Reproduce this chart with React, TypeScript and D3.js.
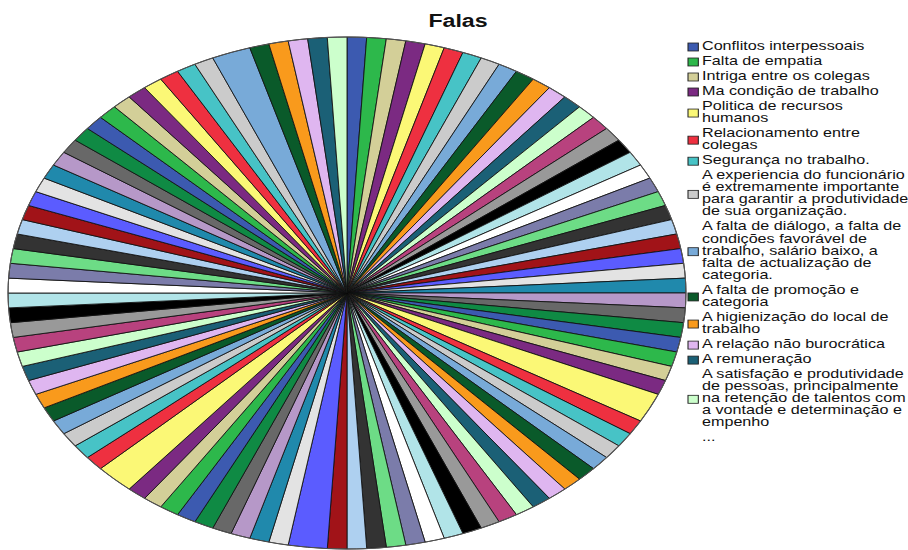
import * as d3 from "d3";

// answers per statement, clockwise from 12 o'clock
const sliceValues = [
  1, 1, 1, 1, 1, 1, 1, 1, 1, 1,
  1, 1, 1, 1, 1, 1, 1, 1, 1, 1,
  1, 1, 1, 1, 1, 1, 1, 1, 1, 1,
  1, 1, 1, 1, 2, 1, 1, 1, 1, 1,
  1, 1, 1, 1, 1, 1, 1, 1, 1, 1,
  1, 1, 1, 1, 2, 1, 1, 1, 1, 1,
  1, 1, 1, 1, 2, 1, 1, 1, 1, 1,
  1, 1, 1, 1, 1, 1, 1, 1, 1, 1,
  1, 1, 1, 1, 1, 1, 1, 1, 1, 1,
  1, 1, 1, 1, 1, 1, 1, 1, 2, 1,
  1, 1, 1, 1,
];

const palette = [
  "#3c5ab0", "#2db84b", "#d3cf98", "#7b2a82", "#fbf876", "#ee3040",
  "#47c3c6", "#cbcbcb", "#78aad8", "#0a5a2a", "#f99a1c", "#dfb6f0",
  "#1b6076", "#ccffcc", "#b8427e", "#999999", "#000000", "#b1e4e8",
  "#ffffff", "#7b7caa", "#6ddc86", "#333333", "#aed0f0", "#a11318",
  "#5b5cff", "#e3e3e3", "#2089ac", "#b698c8", "#686868", "#0f8a44",
];

const legendLabels = [
  ["Conflitos interpessoais"],
  ["Falta de empatia"],
  ["Intriga entre os colegas"],
  ["Ma condição de trabalho"],
  ["Politica de recursos", "humanos"],
  ["Relacionamento entre", "colegas"],
  ["Segurança no trabalho."],
  ["A experiencia do funcionário", "é extremamente importante", "para garantir a produtividade", "de sua organização."],
  ["A falta de diálogo, a falta de", "condições favorável de", "trabalho, salário baixo, a", "falta de actualização de", "categoria."],
  ["A falta de promoção e", "categoria"],
  ["A higienização do local de", "trabalho"],
  ["A relação não burocrática"],
  ["A remuneração"],
  ["A satisfação e produtividade", "de pessoas, principalmente", "na retenção de talentos com", "a vontade e determinação e", "empenho"],
];

const W = 908;
const H = 550;
const SX = 1.324; // chart is stretched horizontally
const FONT = "'Liberation Sans', Arial, sans-serif";

export default function App() {
  const cx = 347 / SX;
  const cy = 293;
  const r = 256;

  const pie = d3.pie<number>().sort(null).value((d) => d);
  const arcs = pie(sliceValues);
  const arc = d3.arc<d3.PieArcDatum<number>>().innerRadius(0).outerRadius(r);

  // legend layout
  const lineH = 12.1;
  const gap = 15;
  let y = 50;
  const entries = legendLabels.map((lines, i) => {
    const first = y;
    const last = y + (lines.length - 1) * lineH;
    y = last + gap;
    return { lines, first, mid: (first + last) / 2, color: palette[i] };
  });
  const moreY = y;

  const legX = 688 / SX;
  const textX = 702 / SX;

  return (
    <svg
      width={W}
      height={H}
      style={{ position: "absolute", left: 0, top: 0, background: "#fff" }}
    >
      <g transform={`scale(${SX},1)`}>
        <text
          x={458 / SX}
          y={27}
          textAnchor="middle"
          fontFamily={FONT}
          fontWeight="bold"
          fontSize={17.5}
          fill="#111"
        >
          Falas
        </text>
        <g transform={`translate(${cx},${cy})`}>
          {arcs.map((a, i) => (
            <path
              key={i}
              d={arc(a) ?? ""}
              fill={palette[i % palette.length]}
              stroke="#111"
              strokeWidth={0.75}
            />
          ))}
          <circle r={r} fill="none" stroke="#555" strokeWidth={0.8} />
        </g>
        <g fontFamily={FONT} fontSize={12.2} fill="#111">
          {entries.map((e, i) => (
            <g key={i}>
              <rect
                x={legX}
                y={e.mid - 3 - 4}
                width={7.8}
                height={8}
                fill={e.color}
                stroke="#222"
                strokeWidth={0.8}
              />
              {e.lines.map((t, j) => (
                <text key={j} x={textX} y={e.first + j * lineH}>
                  {t}
                </text>
              ))}
            </g>
          ))}
          <text x={textX} y={moreY}>
            ...
          </text>
        </g>
      </g>
    </svg>
  );
}
